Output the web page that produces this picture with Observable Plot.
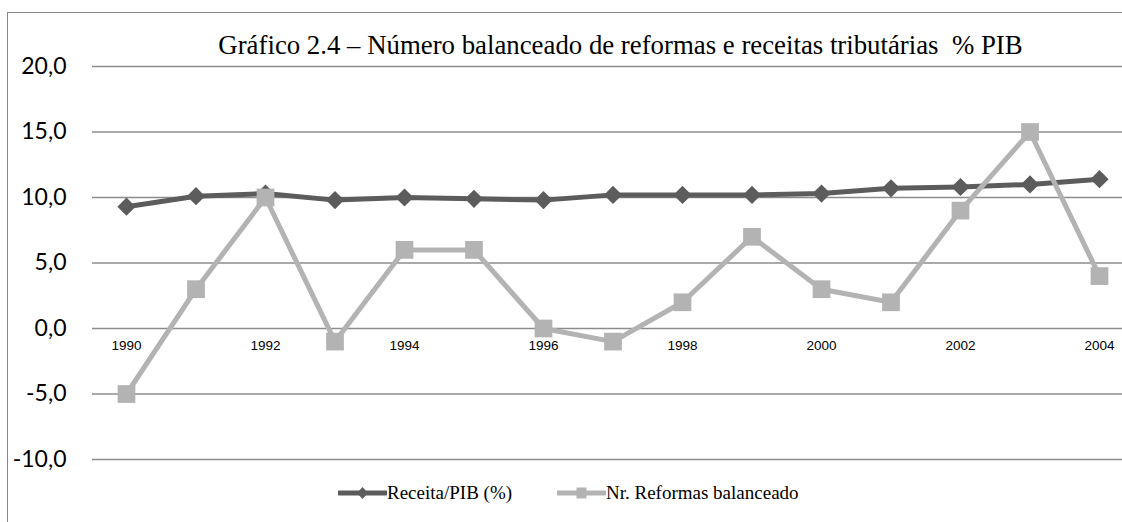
<!DOCTYPE html>
<html>
<head>
<meta charset="utf-8">
<script src="https://cdn.jsdelivr.net/npm/d3@7"></script>
<script src="https://cdn.jsdelivr.net/npm/@observablehq/plot@0.6"></script>
<style>
  html, body { margin: 0; padding: 0; background: #fff; }
  #wrap { position: relative; width: 1122px; height: 522px; overflow: hidden; background: #fff; }
  #frame { position: absolute; left: 7px; top: 12px; width: 1300px; height: 700px; border: 1.5px solid #8a8a8a; box-sizing: border-box; pointer-events: none; }
  #chart { position: absolute; left: 0; top: 0; }
  .leg { position: absolute; top: 481px; display: flex; align-items: center; font-family: "Liberation Serif", "Times New Roman", serif; font-size: 19px; color: #000; white-space: nowrap; }
  .leg svg { display: block; }
</style>
</head>
<body>
<div id="wrap">
  <div id="chart"></div>
  <div id="frame"></div>
  <div class="leg" id="leg0" style="left:338px"></div>
  <div class="leg" id="leg1" style="left:557px"></div>
</div>
<script>
const years = [1990,1991,1992,1993,1994,1995,1996,1997,1998,1999,2000,2001,2002,2003,2004];
const receita = [9.3,10.1,10.3,9.8,10.0,9.9,9.8,10.2,10.2,10.2,10.3,10.7,10.8,11.0,11.4];
const reformas = [-5,3,10,-1,6,6,0,-1,2,7,3,2,9,15,4];
const yTicks = [-10,-5,0,5,10,15,20];
const xTickLabels = [1990,1992,1994,1996,1998,2000,2002,2004];
const seriesNames = ["Receita/PIB (%)", "Nr. Reformas balanceado"];
const seriesColors = ["#5c5c5c", "#b3b3b3"];
const titleText = "Gráfico 2.4 – Número balanceado de reformas e receitas tributárias\u00a0 % PIB";

const d1 = years.map((y, i) => ({year: y, value: receita[i]}));
const d2 = years.map((y, i) => ({year: y, value: reformas[i]}));
const fmt = d => d.toFixed(1).replace(".", ",");

const chart = Plot.plot({
  width: 1122,
  height: 522,
  marginLeft: 92,
  marginRight: 0,
  marginTop: 66,
  marginBottom: 63,
  style: {background: "transparent", color: "#000", overflow: "visible"},
  x: {type: "point", domain: years, range: [126, 1099], padding: 0, round: false, axis: null},
  y: {domain: [-10, 20], axis: null},
  marks: [
    Plot.ruleY(yTicks, {stroke: "#8c8c8c", strokeWidth: 1.4}),
    Plot.axisY({ticks: yTicks, tickSize: 0, tickPadding: 26, tickFormat: fmt, label: null,
      fontSize: 23, fontFamily: "Lato, 'Open Sans', sans-serif", fill: "#000"}),
    Plot.text(xTickLabels, {x: d => d, y: () => 0, text: d => String(d), dy: 17,
      fontSize: 13.5, fontFamily: "'Liberation Sans', Arial, sans-serif", fill: "#000"}),
    Plot.line(d1, {x: "year", y: "value", stroke: seriesColors[0], strokeWidth: 5, strokeLinejoin: "round"}),
    Plot.dot(d1, {x: "year", y: "value", symbol: "diamond2", r: 8.2, fill: seriesColors[0], stroke: "none"}),
    Plot.line(d2, {x: "year", y: "value", stroke: seriesColors[1], strokeWidth: 5, strokeLinejoin: "round"}),
    Plot.dot(d2, {x: "year", y: "value", symbol: "square", r: 10, fill: seriesColors[1], stroke: "none"}),
    Plot.text([titleText], {text: d => d, frameAnchor: "top", dx: 13, dy: -32,
      fontSize: 26.8, fontFamily: "'Liberation Serif', 'Times New Roman', serif", fill: "#000"})
  ]
});
document.getElementById("chart").appendChild(chart);

// legend
const ns = "http://www.w3.org/2000/svg";
seriesNames.forEach((name, i) => {
  const el = document.getElementById("leg" + i);
  const svg = document.createElementNS(ns, "svg");
  svg.setAttribute("width", 49);
  svg.setAttribute("height", 24);
  const line = document.createElementNS(ns, "line");
  line.setAttribute("x1", 1); line.setAttribute("x2", 48);
  line.setAttribute("y1", 12); line.setAttribute("y2", 12);
  line.setAttribute("stroke", seriesColors[i]);
  line.setAttribute("stroke-width", 5);
  line.setAttribute("stroke-linecap", "round");
  svg.appendChild(line);
  const mk = document.createElementNS(ns, "path");
  if (i === 0) mk.setAttribute("d", "M24.5,6 L30,12 L24.5,18 L19,12 Z");
  else mk.setAttribute("d", "M19.5,6.5 h10 v11 h-10 Z");
  mk.setAttribute("fill", seriesColors[i]);
  svg.appendChild(mk);
  el.appendChild(svg);
  const span = document.createElement("span");
  span.textContent = name;
  el.appendChild(span);
});
</script>
</body>
</html>
